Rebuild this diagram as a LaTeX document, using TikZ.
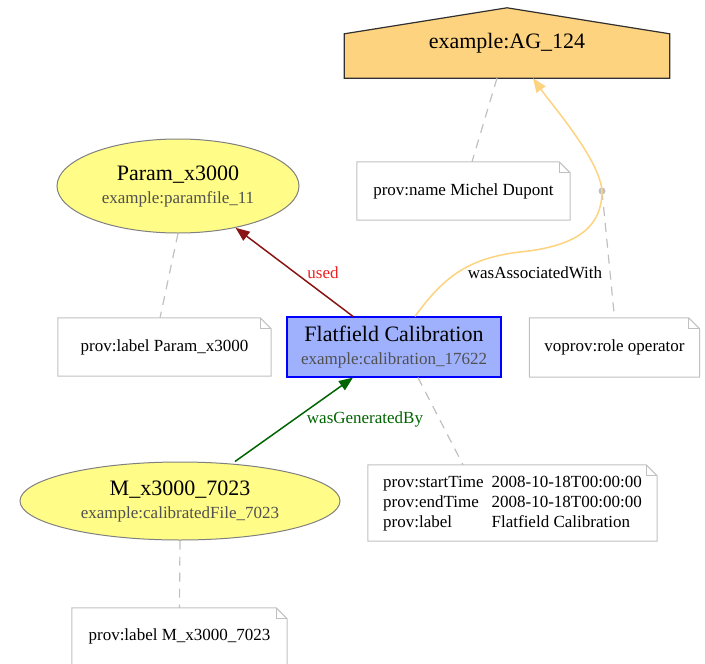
\documentclass[tikz,border=0pt]{standalone}
\usepackage{fontspec}
\setmainfont{Liberation Serif}
\usetikzlibrary{shapes.geometric,arrows.meta,backgrounds}

\definecolor{agentfill}{HTML}{FED37F}
\definecolor{agentline}{HTML}{303030}
\definecolor{actfill}{HTML}{9FB1FC}
\definecolor{actline}{HTML}{0000FF}
\definecolor{entfill}{HTML}{FFFC87}
\definecolor{entline}{HTML}{808080}
\definecolor{usedcol}{HTML}{8B1515}
\definecolor{usedlabel}{HTML}{F02020}
\definecolor{gencol}{HTML}{006400}
\definecolor{annline}{HTML}{C0C0C0}
\definecolor{subgray}{HTML}{505050}

\newcommand\bigfont{\fontsize{22}{24}\selectfont}
\newcommand\smallfont{\fontsize{17}{20}\selectfont}

% outline of a note with a folded top-right corner, drawn round a node
\newcommand\notefold[1]{%
  \draw[notebox] (#1.south west) -- (#1.north west) -- ([xshift=-11pt]#1.north east)
    -- ([yshift=-11pt]#1.north east) -- (#1.south east) -- cycle;
  \draw[notebox] ([xshift=-11pt]#1.north east) |- ([yshift=-11pt]#1.north east);}

\tikzset{
  entity/.style={ellipse, draw=entline, fill=entfill, line width=1pt, inner sep=0pt,
    align=center, font=\smallfont},
  activity/.style={rectangle, draw=actline, fill=actfill, line width=1.2pt, inner sep=0pt,
    align=center, font=\smallfont},
  agenttext/.style={inner sep=0pt, font=\bigfont, minimum width=325pt, minimum height=70pt},
  agentshape/.style={draw=agentline, fill=agentfill, line width=1.2pt, line join=miter},
  annot/.style={inner sep=0pt, font=\smallfont},
  notebox/.style={draw=annline, line width=1pt},
  annlink/.style={draw=annline, line width=1.2pt, dash pattern=on 9pt off 7pt},
  usededge/.style={draw=usedcol, line width=1.5pt, -{Triangle[length=14pt,width=11pt]}},
  genedge/.style={draw=gencol, line width=1.5pt, -{Triangle[length=14pt,width=11pt]}},
  assocedge/.style={draw=agentfill, line width=1.5pt, -{Triangle[length=14pt,width=11pt]}},
  edgelabel/.style={inner sep=0pt, font=\smallfont},
  bendpoint/.style={circle, fill=annline, inner sep=0pt, minimum size=7pt},
}

\begin{document}
\begin{tikzpicture}[x=1pt,y=-1pt]
\useasboundingbox (0,0) rectangle (705,664);
\clip (0,0) rectangle (705,664);

% agent
\node[agenttext] (ag) at (507,43) {example:AG\_124};
\begin{scope}[on background layer]
  \draw[agentshape] (ag.south west) -- ([yshift=-26pt]ag.north west) -- (ag.north)
    -- ([yshift=-26pt]ag.north east) -- (ag.south east) -- cycle;
\end{scope}

% entities and activity
\node[entity, minimum width=242pt, minimum height=94pt] (par) at (178,186)
  {{\bigfont Param\_x3000}\\[3pt]{\color{subgray}example:paramfile\_11}};
\node[activity, minimum width=214pt, minimum height=60pt] (act) at (394,347)
  {{\bigfont Flatfield Calibration}\\[3pt]{\color{subgray}example:calibration\_17622}};
\node[entity, minimum width=320pt, minimum height=78pt] (mx) at (180,501)
  {{\bigfont M\_x3000\_7023}\\[3pt]{\color{subgray}example:calibratedFile\_7023}};

% annotation notes
\node[annot, minimum width=213pt, minimum height=58pt] (nname) at (463.5,191) {prov:name Michel Dupont};
\notefold{nname}
\node[annot, minimum width=213pt, minimum height=58pt] (npar) at (164.5,347) {prov:label Param\_x3000};
\notefold{npar}
\node[annot, minimum width=170pt, minimum height=59pt] (nrole) at (614.5,347.5) {voprov:role operator};
\notefold{nrole}
\node[annot, minimum width=289pt, minimum height=76pt] (ntime) at (512.5,503)
  {\begin{tabular}{@{}l@{\hspace{8pt}}l@{}}
   prov:startTime & 2008-10-18T00:00:00\\
   prov:endTime & 2008-10-18T00:00:00\\
   prov:label & Flatfield Calibration
   \end{tabular}};
\notefold{ntime}
\node[annot, minimum width=215pt, minimum height=80pt, text height=12pt, text depth=28pt]
  (nmx) at (179.5,648) {prov:label M\_x3000\_7023};
\notefold{nmx}

% annotation links
\node[bendpoint] (dot) at (602,191) {};
\draw[annlink] ([xshift=-10pt]ag.south) -- ([xshift=8.5pt]nname.north);
\draw[annlink] (par.south) -- ([xshift=-4.5pt]npar.north);
\draw[annlink] ([xshift=24pt]act.south) -- ([xshift=-49.5pt]ntime.north);
\draw[annlink] (mx.south) -- (nmx.north);
\draw[annlink] (dot.center) -- (nrole.north);

% relations
\draw[usededge] ([xshift=-41pt]act.north) -- (par.-36);
\draw[genedge] ([xshift=55pt]mx.north) -- ([xshift=-41pt]act.south);
\draw[assocedge] ([xshift=21pt]act.north) .. controls (445,275) and (470,258) .. (520,252)
  .. controls (580,246) and (602,225) .. (dot.center)
  .. controls (600,160) and (552,105) .. ([xshift=26pt]ag.south);

% relation labels
\node[edgelabel, text=usedlabel] (lused) at (323,273) {used};
\node[edgelabel] (lassoc) at (535,273) {wasAssociatedWith};
\node[edgelabel, text=gencol] (lgen) at (365,419) {wasGeneratedBy};
\end{tikzpicture}
\end{document}
